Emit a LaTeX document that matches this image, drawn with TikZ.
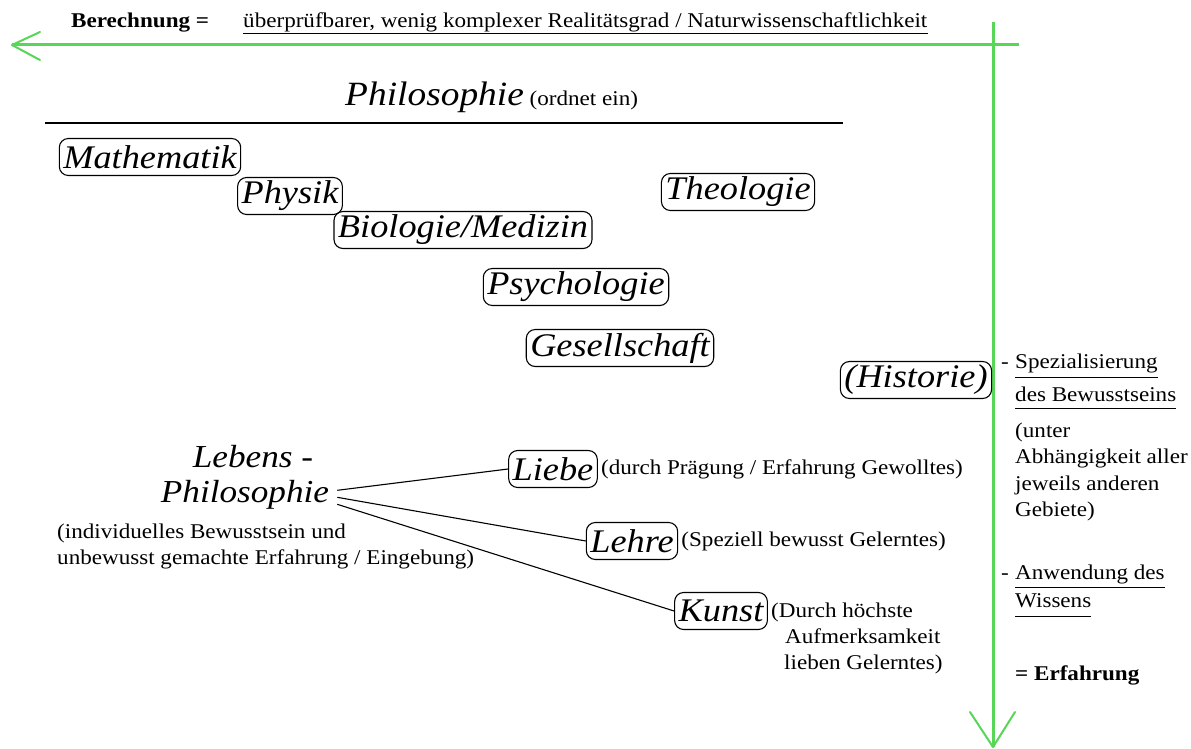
\documentclass[tikz,border=0pt]{standalone}
\usepackage{fontspec}
\setmainfont{Liberation Serif}[FakeStretch=1.1]
\definecolor{arrowgreen}{RGB}{88,214,88}
\begin{document}
\begin{tikzpicture}[x=1pt,y=-1pt,
  field/.style={draw, line width=1.1pt, rounded corners=9pt, inner xsep=4pt, inner ysep=1pt,
                minimum height=37pt, font=\fontsize{33}{37}\selectfont\itshape},
  txt/.style={inner sep=0pt, anchor=base west, font=\fontsize{21}{25}\selectfont},
  bigit/.style={inner sep=0pt, anchor=base, font=\fontsize{32}{36}\selectfont\itshape},
  axis/.style={draw=arrowgreen, line width=3pt},
  barb/.style={draw=arrowgreen, line width=2pt, line cap=round, line join=round},
  link/.style={draw, line width=1.1pt},
  ul/.style={line width=0.9pt}
]
\useasboundingbox[fill=white] (0,0) rectangle (1191,749);

% headline
\node[txt, font=\fontsize{21}{25}\selectfont\bfseries] (calc) at (71,28) {Berechnung =};
\node[txt] (nat) at (243,28) {überprüfbarer, wenig komplexer Realitätsgrad / Naturwissenschaftlichkeit};
\draw[ul] ([yshift=-5pt]nat.base west) -- ([yshift=-5pt]nat.base east);

% green axes
\coordinate (hl) at (12,45);
\coordinate (hr) at (1019,45);
\coordinate (vt) at (993,22);
\coordinate (vb) at (993,747);
\draw[axis] (hr) -- (hl);
\draw[axis] (vt) -- (vb);
\draw[barb] (hl) ++(28,-13) -- (hl) -- ++(28,15);
\draw[barb] (vb) ++(-23,-35) -- (vb) -- ++(22,-35);

% philosophy heading and rule
\node[txt] (phil) at (345,106) {{\fontsize{34}{38}\selectfont\itshape Philosophie} (ordnet ein)};
\coordinate (rl) at (45,123);
\coordinate (rr) at (843,123);
\draw[line width=1.3pt] (rl) -- (rr);

% fields of knowledge
\node[field] (math) at (150,157) {Mathematik};
\node[field] (phys) at (290,196) {Physik};
\node[field] (bio)  at (463,230) {Biologie/Medizin};
\node[field] (theo) at (738,192) {Theologie};
\node[field] (psy)  at (576,287) {Psychologie};
\node[field] (ges)  at (620,348) {Gesellschaft};
\node[field] (hist) at (916,380) {(Historie)};

% philosophy of life
\node[bigit] (leb)   at (253,467) {Lebens -};
\node[bigit] (lphil) at (245,502) {Philosophie};
\node[txt] (ind1) at (57,538) {(individuelles Bewusstsein und};
\node[txt] (ind2) at (57,564) {unbewusst gemachte Erfahrung / Eingebung)};

\node[field] (liebe) at (553,469) {Liebe};
\node[field] (lehre) at (632,541) {Lehre};
\node[field] (kunst) at (721,611) {Kunst};

\node[txt, anchor=west] (liebet) at ([xshift=3pt]liebe.east) {(durch Prägung / Erfahrung Gewolltes)};
\node[txt, anchor=west] (lehret) at ([xshift=3pt]lehre.east) {(Speziell bewusst Gelerntes)};
\node[txt] (kunst1) at (771,617) {(Durch höchste};
\node[txt] (kunst2) at (785,643) {Aufmerksamkeit};
\node[txt] (kunst3) at (784,669) {lieben Gelerntes)};

\draw[link] ([xshift=8pt,yshift=4pt]lphil.east)  -- (liebe.west);
\draw[link] ([xshift=8pt,yshift=-3pt]lphil.east) -- (lehre.west);
\draw[link] ([xshift=8pt,yshift=-10pt]lphil.east) -- (kunst.west);

% right column
\node[txt] (d1)   at (1001,368) {-};
\node[txt] (spez) at (1015,368) {Spezialisierung};
\node[txt] (bew)  at (1015,401) {des Bewusstseins};
\draw[ul] ([yshift=-9pt]spez.base west) -- ([yshift=-9pt]spez.base east);
\draw[ul] ([yshift=-7pt]bew.base west) -- ([yshift=-7pt]bew.base east);
\node[txt] (u1) at (1015,437) {(unter};
\node[txt] (u2) at (1015,463) {Abhängigkeit aller};
\node[txt] (u3) at (1015,490) {jeweils anderen};
\node[txt] (u4) at (1015,516) {Gebiete)};
\node[txt] (d2)  at (1001,579) {-};
\node[txt] (anw) at (1015,579) {Anwendung des};
\node[txt] (wis) at (1015,607) {Wissens};
\draw[ul] ([yshift=-8pt]anw.base west) -- ([yshift=-8pt]anw.base east);
\draw[ul] ([yshift=-9pt]wis.base west) -- ([yshift=-9pt]wis.base east);
\node[txt, font=\fontsize{21}{25}\selectfont\bfseries] (erf) at (1015,680) {= Erfahrung};
\end{tikzpicture}
\end{document}
